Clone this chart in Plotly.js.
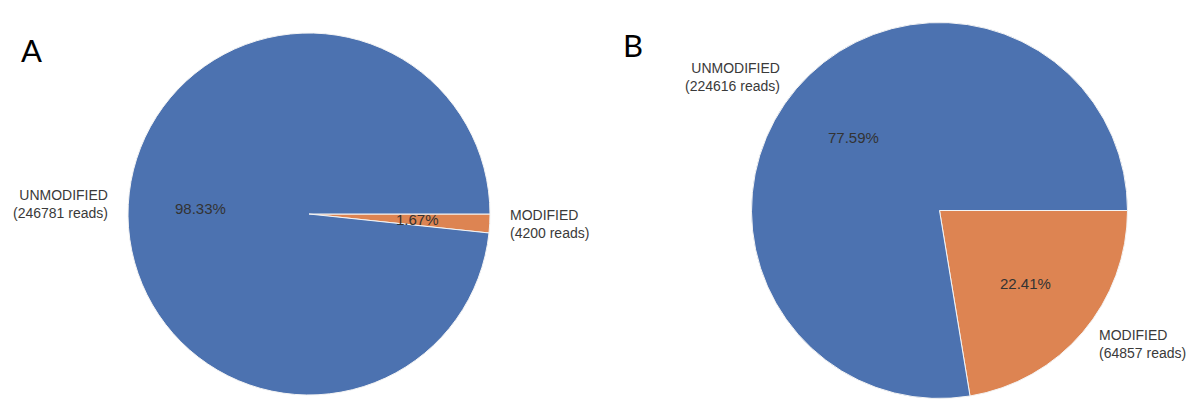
<!DOCTYPE html>
<html>
<head>
<meta charset="utf-8">
<script src="https://cdn.plot.ly/plotly-3.0.1.min.js"></script>
<style>
  html, body { margin: 0; padding: 0; background: #ffffff; }
  #chart { width: 1195px; height: 419px; }
</style>
</head>
<body>
<div id="chart"></div>
<script>
// Read classification per sample
const categories = ["UNMODIFIED", "MODIFIED"];
const readsA = [246781, 4200];
const readsB = [224616, 64857];
const percentA = [98.33, 1.67];
const percentB = [77.59, 22.41];
const panelLabels = ["A", "B"];

const W = 1195, H = 419;
const sliceColors = ["#4c72b0", "#dd8452"];

// Pie placement in pixels (center and radius)
const pies = [
  { cx: 309, cy: 214, r: 181, reads: readsA, pct: percentA, tag: { x: 31, y: 50 } },
  { cx: 939.5, cy: 210.5, r: 188, reads: readsB, pct: percentB, tag: { x: 633, y: 45 } }
];

const traces = [];
const annotations = [];

pies.forEach((p, i) => {
  // Wedges run counterclockwise from 3 o'clock in category order; plotly's
  // equivalent is the reversed order drawn clockwise from 3 o'clock.
  traces.push({
    type: "pie",
    labels: categories.slice().reverse(),
    values: p.reads.slice().reverse(),
    sort: false,
    direction: "clockwise",
    rotation: 90,
    textinfo: "none",
    hoverinfo: "label+value+percent",
    marker: { colors: sliceColors.slice().reverse(), line: { color: "#f4f4f4", width: 1 } },
    domain: {
      x: [(p.cx - p.r) / W, (p.cx + p.r) / W],
      y: [1 - (p.cy + p.r) / H, 1 - (p.cy - p.r) / H]
    },
    showlegend: false
  });

  // Wedge labels: category outside at 1.1 r, percentage inside at 0.6 r
  const total = p.reads.reduce((a, b) => a + b, 0);
  let start = 0;
  p.reads.forEach((v, k) => {
    const frac = v / total;
    const mid = (start + frac / 2) * 2 * Math.PI;
    start += frac;
    const c = Math.cos(mid), s = Math.sin(mid);
    const lx = p.cx + 1.1 * p.r * c, ly = p.cy - 1.1 * p.r * s;
    const tx = p.cx + 0.6 * p.r * c, ty = p.cy - 0.6 * p.r * s;
    const side = c < 0 ? "right" : "left";
    annotations.push({
      xref: "paper", yref: "paper",
      x: lx / W, y: 1 - ly / H,
      xanchor: side, yanchor: "middle",
      align: side,
      text: categories[k] + "<br>(" + v + " reads)",
      showarrow: false,
      font: { family: "Liberation Sans, Arial, sans-serif", size: 14, color: "#3a3a3a" }
    });
    annotations.push({
      xref: "paper", yref: "paper",
      x: tx / W, y: 1 - ty / H,
      xanchor: "center", yanchor: "middle",
      text: p.pct[k].toFixed(2) + "%",
      showarrow: false,
      font: { family: "Liberation Sans, Arial, sans-serif", size: 15, color: "#333333" }
    });
  });

  annotations.push({
    xref: "paper", yref: "paper",
    x: p.tag.x / W, y: 1 - p.tag.y / H,
    xanchor: "center", yanchor: "middle",
    text: panelLabels[i],
    showarrow: false,
    font: { family: "Lato, Noto Sans, sans-serif", size: 31, color: "#000000" }
  });
});

const layout = {
  width: W, height: H,
  margin: { l: 0, r: 0, t: 0, b: 0 },
  paper_bgcolor: "#ffffff",
  plot_bgcolor: "#ffffff",
  annotations: annotations,
  showlegend: false
};

Plotly.newPlot("chart", traces, layout, { displayModeBar: false, staticPlot: true });
</script>
</body>
</html>
